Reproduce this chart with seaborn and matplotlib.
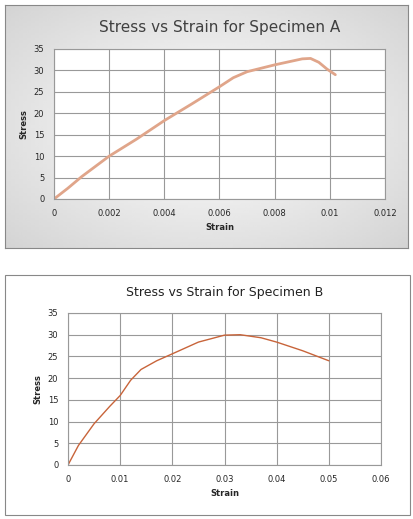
import numpy as np
import matplotlib
matplotlib.use("Agg")
import matplotlib.pyplot as plt
from matplotlib.patches import Rectangle
import seaborn as sns

strain_a = [0, 0.0005, 0.001, 0.0015, 0.002, 0.003, 0.004, 0.005, 0.006, 0.0065, 0.007,
            0.0075, 0.008, 0.0085, 0.009, 0.0093, 0.0096, 0.0099, 0.0102]
stress_a = [0, 2.5, 5.2, 7.6, 10, 14, 18.3, 22.2, 26.2, 28.3, 29.7,
            30.5, 31.3, 32.0, 32.7, 32.8, 31.9, 30.3, 29.0]
strain_b = [0, 0.002, 0.005, 0.008, 0.01, 0.012, 0.014, 0.017, 0.02, 0.025, 0.03, 0.033,
            0.037, 0.04, 0.045, 0.05]
stress_b = [0, 4.5, 9.5, 13.5, 16, 19.5, 22, 24, 25.6, 28.3, 29.9, 30,
            29.3, 28.3, 26.3, 24]

sns.set_style("white")
fig = plt.figure(figsize=(4.14, 5.19), dpi=100)
W, H = 414, 519

# panel backgrounds
yy, xx = np.mgrid[-1:1:100j, -1:1:100j]
grad = 1 - 0.12 * np.clip(np.sqrt(xx**2 + yy**2), 0, 1.4)
bax = fig.add_axes([5 / W, 1 - 248 / H, 403 / W, 243 / H])
bax.imshow(grad, cmap="gray", vmin=0, vmax=1, aspect="auto", extent=[0, 1, 0, 1])
bax.set_xticks([]); bax.set_yticks([])
for s in bax.spines.values():
    s.set_color("#888888"); s.set_linewidth(0.8)
fig.patches.append(Rectangle((5 / W, 1 - 515 / H), 405 / W, 240 / H, transform=fig.transFigure,
                             fill=False, edgecolor="#888888", lw=0.8))

def style(ax, xlim, xticks, xlabels, title, tsize):
    ax.set_xlim(*xlim); ax.set_ylim(0, 35)
    ax.set_xticks(xticks); ax.set_xticklabels(xlabels, fontsize=6)
    ax.set_yticks(range(0, 36, 5)); ax.tick_params(axis="y", labelsize=6)
    ax.grid(True, color="#999999", lw=0.8)
    for s in ax.spines.values():
        s.set_color("#999999"); s.set_linewidth(0.8)
    ax.set_xlabel("Strain", fontsize=6, fontweight="bold")
    ax.set_ylabel("Stress", fontsize=6, fontweight="bold")
    ax.set_title(title, fontsize=tsize, color="#404040", pad=12)

ax1 = fig.add_axes([54 / W, 1 - 199 / H, 331 / W, 150 / H])
ax1.set_facecolor("white")
sns.lineplot(x=strain_a, y=stress_a, ax=ax1, color="#e0a58a", lw=2)
style(ax1, (0, 0.012), np.arange(0, 0.0121, 0.002),
      ["0", "0.002", "0.004", "0.006", "0.008", "0.01", "0.012"],
      "Stress vs Strain for Specimen A", 11)

ax2 = fig.add_axes([68 / W, 1 - 465 / H, 313 / W, 152 / H])
sns.lineplot(x=strain_b, y=stress_b, ax=ax2, color="#c8643a", lw=1)
style(ax2, (0, 0.06), np.arange(0, 0.061, 0.01),
      ["0", "0.01", "0.02", "0.03", "0.04", "0.05", "0.06"],
      "Stress vs Strain for Specimen B", 9)
ax2.title.set_color("#222222")

fig.savefig("out.png", dpi=100)
